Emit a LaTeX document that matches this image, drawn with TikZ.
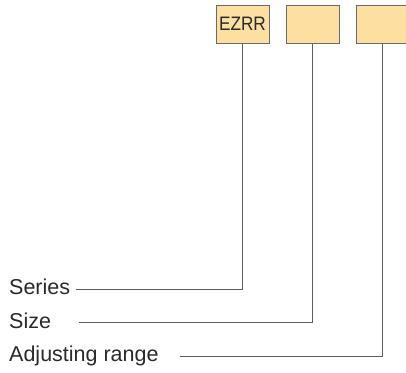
\documentclass[tikz,border=0pt]{standalone}
\usepackage{fontspec}
\setmainfont{Liberation Sans}
\definecolor{boxfill}{HTML}{FDDFA2}
\definecolor{boxline}{HTML}{6A6A6A}
\definecolor{leadline}{HTML}{5E5E5E}
\definecolor{txt}{HTML}{2A2A2A}
\begin{document}
\begin{tikzpicture}[x=1pt,y=1pt,
  codebox/.style={draw=boxline,fill=boxfill,line width=1pt,minimum width=53pt,minimum height=38pt,inner sep=0pt},
  label/.style={anchor=base west,inner sep=0pt,text=txt,font=\fontsize{21.5}{24}\selectfont},
  lead/.style={draw=leadline,line width=1pt}]
\useasboundingbox (0,0) rectangle (406,-372);
\node[codebox,font=\fontsize{19.5}{20}\selectfont,text=txt] (b1) at (242.5,-24) {\scalebox{0.88}[1]{EZRR}};
\node[codebox] (b2) at (312.5,-24) {};
\node[codebox] (b3) at (382.5,-24) {};
\node[label] (series) at (9,-294.5) {Series};
\node[label] (size) at (9,-328) {Size};
\node[label] (adj) at (9,-361.5) {Adjusting range};
\coordinate (s1) at (76,-289);
\coordinate (s2) at (79,-322);
\coordinate (s3) at (180,-356.5);
\draw[lead] (b1.south) |- (s1);
\draw[lead] (b2.south) |- (s2);
\draw[lead] (b3.south) |- (s3);
\end{tikzpicture}
\end{document}
